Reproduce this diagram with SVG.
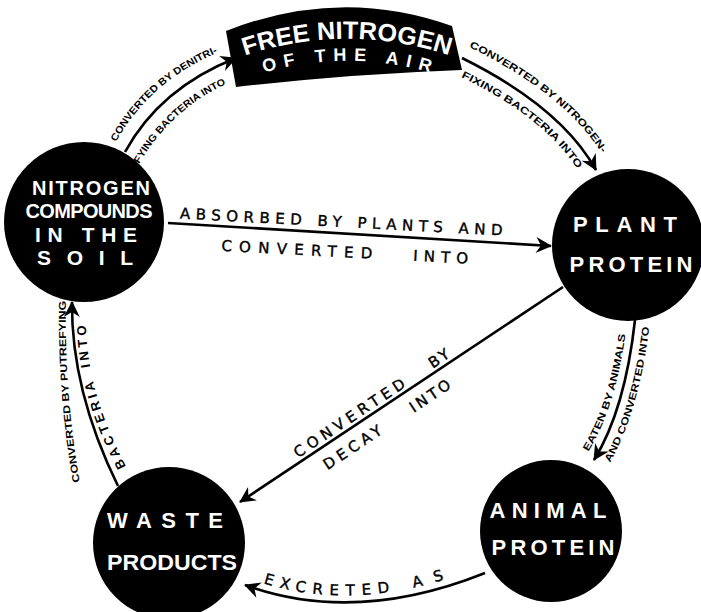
<svg xmlns="http://www.w3.org/2000/svg" width="701" height="612" viewBox="0 0 701 612">
<style>
.bg{fill:#fff}
.disc{fill:#000}
.nt{fill:#fff;font-family:"Liberation Sans",Arial,sans-serif;font-weight:bold;text-anchor:middle}
.ln{fill:none;stroke:#000;stroke-width:2.6}
.sm{fill:#000;font-family:"Liberation Sans",Arial,sans-serif;font-weight:bold;font-size:10px}
.wd{fill:#000;stroke:#000;stroke-width:0.4;font-family:"DejaVu Sans",Verdana,sans-serif;font-size:15px}
.md{fill:#000;font-family:"Liberation Sans",Arial,sans-serif;font-weight:bold;font-size:13px}
</style>
<defs>
<marker id="ah" viewBox="-17 -9 19 18" markerWidth="19" markerHeight="18" refX="0" refY="0" orient="auto" markerUnits="userSpaceOnUse">
<path d="M1,0 L-15,-8 L-10,0 L-15,8 Z" fill="#000"/>
</marker>
<path id="p1a" d="M116,142 Q151,79 224,50"/>
<path id="p1b" d="M139,164 Q174,104 238,79"/>
<path id="p2a" d="M469,47 Q571,97 607,162"/>
<path id="p2b" d="M461,77 Q550,120 582,177"/>
<path id="p5a" d="M586,455 Q617,408 627,322"/>
<path id="p5b" d="M608,466 Q639,414 650,322"/>
<path id="p7a" d="M80,484 Q64,390 66,298"/>
<path id="p7b" d="M128,470 Q86,392 86,322"/>
<path id="p6a" d="M248,578 Q355,618 482,566"/>
<path id="pban1" d="M232,60 A324 324 0 0 1 462,60"/>
<path id="pban2" d="M250,77 A298 298 0 0 1 444,77"/>
</defs>
<rect class="bg" x="0" y="0" width="701" height="612"/>

<g id="connectors">
<path class="ln" d="M125,152 Q160,88 236,58" marker-end="url(#ah)"/>
<path class="ln" d="M462,58 Q561,107 596,170" marker-end="url(#ah)"/>
<path class="ln" d="M168,223 L551,246" marker-end="url(#ah)"/>
<path class="ln" d="M563,287 L240,502" marker-end="url(#ah)"/>
<path class="ln" d="M635,320 Q625,410 594,460" marker-end="url(#ah)"/>
<path class="ln" d="M485,573 Q355,625 245,585" marker-end="url(#ah)"/>
<path class="ln" d="M118,486 Q71,390 72,302" marker-end="url(#ah)"/>

<text class="sm"><textPath href="#p1a" textLength="138" lengthAdjust="spacingAndGlyphs">CONVERTED BY DENITRI-</textPath></text>
<text class="sm"><textPath href="#p1b" textLength="120" lengthAdjust="spacingAndGlyphs">FYING BACTERIA INTO</textPath></text>
<text class="sm"><textPath href="#p2a" textLength="172" lengthAdjust="spacingAndGlyphs">CONVERTED BY NITROGEN-</textPath></text>
<text class="sm"><textPath href="#p2b" textLength="150" lengthAdjust="spacingAndGlyphs">FIXING BACTERIA INTO</textPath></text>

<g transform="rotate(3 341 228)">
<text class="wd" x="341" y="227" text-anchor="middle" textLength="323" lengthAdjust="spacing">ABSORBED BY PLANTS AND</text>
<text class="wd" x="298" y="257" text-anchor="middle" textLength="151" lengthAdjust="spacing">CONVERTED</text>
<text class="wd" x="442" y="257" text-anchor="middle" textLength="55" lengthAdjust="spacing">INTO</text>
</g>

<g transform="translate(370 402) rotate(-33.6)">
<text class="wd" x="-26" y="7" text-anchor="middle" textLength="130" lengthAdjust="spacing">CONVERTED</text>
<text class="wd" x="83" y="7" text-anchor="middle" letter-spacing="3">BY</text>
</g>
<g transform="translate(387 427) rotate(-33.6)">
<text class="wd" x="-40" y="3" text-anchor="middle" textLength="67" lengthAdjust="spacing">DECAY</text>
<text class="wd" x="53" y="3" text-anchor="middle" textLength="46" lengthAdjust="spacing">INTO</text>
</g>

<text class="sm"><textPath href="#p5a" startOffset="4" textLength="124" lengthAdjust="spacingAndGlyphs">EATEN BY ANIMALS</textPath></text>
<text class="sm"><textPath href="#p5b" startOffset="4" textLength="142" lengthAdjust="spacingAndGlyphs">AND CONVERTED INTO</textPath></text>

<text class="sm"><textPath href="#p7a" startOffset="2" textLength="182" lengthAdjust="spacingAndGlyphs">CONVERTED BY PUTREFYING</textPath></text>
<text class="md"><textPath href="#p7b" startOffset="4" textLength="92" lengthAdjust="spacing">BACTERIA</textPath></text>
<text class="md"><textPath href="#p7b" startOffset="110" textLength="42" lengthAdjust="spacing">INTO</textPath></text>

<text class="wd"><textPath href="#p6a" startOffset="16" textLength="128" lengthAdjust="spacing">EXCRETED</textPath></text>
<text class="wd"><textPath href="#p6a" startOffset="168" textLength="32" lengthAdjust="spacing">AS</textPath></text>
</g>

<g id="free-nitrogen">
<path class="disc" d="M226,31 Q340,-14 452,26 L462,70 Q350,74 236,87 Z"/>
<text class="nt" font-size="25"><textPath href="#pban1" startOffset="50%" textLength="208" lengthAdjust="spacingAndGlyphs">FREE NITROGEN</textPath></text>
<text class="nt" font-size="18"><textPath href="#pban2" startOffset="50%" textLength="168" lengthAdjust="spacing">OF THE AIR</textPath></text>
</g>

<g id="soil">
<circle class="disc" cx="84" cy="222" r="80"/>
<text class="nt" x="91" y="195" font-size="20" textLength="118" lengthAdjust="spacing">NITROGEN</text>
<text class="nt" x="89" y="218" font-size="20" textLength="127" lengthAdjust="spacing">COMPOUNDS</text>
<text class="nt" x="86" y="242" font-size="21" textLength="102" lengthAdjust="spacing">IN THE</text>
<text class="nt" x="85" y="265" font-size="21" textLength="96" lengthAdjust="spacing">SOIL</text>
</g>

<g id="plant">
<circle class="disc" cx="628" cy="245" r="76"/>
<text class="nt" x="625" y="232" font-size="22" textLength="104" lengthAdjust="spacing">PLANT</text>
<text class="nt" x="631" y="272" font-size="22" textLength="123" lengthAdjust="spacing">PROTEIN</text>
</g>

<g id="animal">
<circle class="disc" cx="551" cy="531" r="71"/>
<text class="nt" x="548" y="518" font-size="22" textLength="117" lengthAdjust="spacing">ANIMAL</text>
<text class="nt" x="553" y="555" font-size="22" textLength="123" lengthAdjust="spacing">PROTEIN</text>
</g>

<g id="waste">
<circle class="disc" cx="169" cy="543" r="76"/>
<text class="nt" x="165" y="528" font-size="22" textLength="116" lengthAdjust="spacing">WASTE</text>
<text class="nt" x="172" y="570" font-size="22" textLength="130" lengthAdjust="spacingAndGlyphs">PRODUCTS</text>
</g>
</svg>
